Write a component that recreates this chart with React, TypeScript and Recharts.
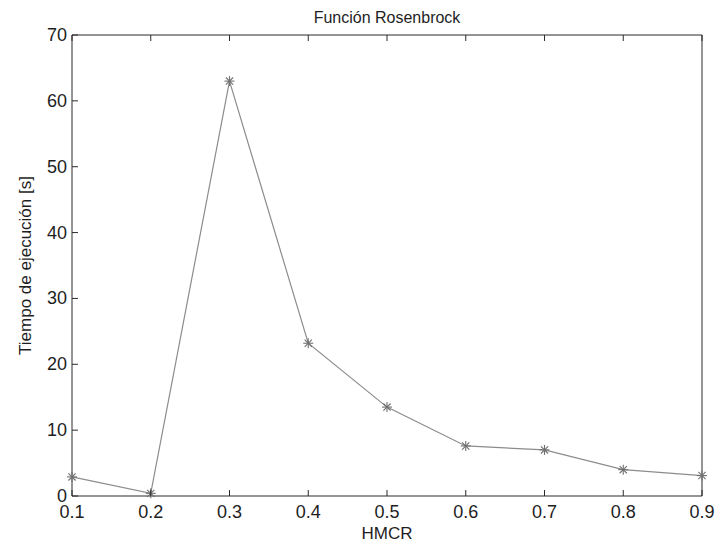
import React from 'react';
import { LineChart, Line, XAxis, YAxis, Label } from 'recharts';

const hmcr = [0.1, 0.2, 0.3, 0.4, 0.5, 0.6, 0.7, 0.8, 0.9];
const tiempo = [2.9, 0.4, 63, 23.2, 13.5, 7.6, 7.0, 4.0, 3.1];
const yTicks = [0, 10, 20, 30, 40, 50, 60, 70];

const data = hmcr.map((x, i) => ({ x, t: tiempo[i] }));

const AXIS = '#2b2b2b';
const TXT = '#1e1e1e';
const FONT = '"Liberation Sans", Arial, sans-serif';

const Star = (props: any) => {
  const { cx, cy } = props;
  if (cx == null || cy == null) return null;
  const r = 5;
  const d = r * 0.72;
  return (
    <g stroke="#707070" strokeWidth={1.1}>
      <line x1={cx - r} y1={cy} x2={cx + r} y2={cy} />
      <line x1={cx} y1={cy - r} x2={cx} y2={cy + r} />
      <line x1={cx - d} y1={cy - d} x2={cx + d} y2={cy + d} />
      <line x1={cx - d} y1={cy + d} x2={cx + d} y2={cy - d} />
    </g>
  );
};

const BottomTick = (props: any) => {
  const { x, y, payload } = props;
  return (
    <g>
      <line x1={x} y1={y} x2={x} y2={y - 6} stroke={AXIS} strokeWidth={1} />
      <text x={x} y={y + 22} textAnchor="middle" fontSize={18} fill={TXT} fontFamily={FONT}>
        {payload.value}
      </text>
    </g>
  );
};

const LeftTick = (props: any) => {
  const { x, y, payload } = props;
  return (
    <g>
      <line x1={x} y1={y} x2={x + 6} y2={y} stroke={AXIS} strokeWidth={1} />
      <text x={x - 5} y={y + 6} textAnchor="end" fontSize={18} fill={TXT} fontFamily={FONT}>
        {payload.value}
      </text>
    </g>
  );
};

// inward tick marks only, for the top and right sides of the box
const TopTick = (props: any) => {
  const { x, y } = props;
  return <line x1={x} y1={y} x2={x} y2={y + 6} stroke={AXIS} strokeWidth={1} />;
};

const RightTick = (props: any) => {
  const { x, y } = props;
  return <line x1={x} y1={y} x2={x - 6} y2={y} stroke={AXIS} strokeWidth={1} />;
};

export default function App() {
  return (
    <div style={{ position: 'absolute', left: 0, top: 0, background: '#fff' }}>
      <LineChart
        width={718}
        height={544}
        data={data}
        margin={{ top: 15, right: 6, bottom: 18, left: 12 }}
      >
        <text x={387} y={23} textAnchor="middle" fontSize={16} fill={TXT} fontFamily={FONT}>
          Función Rosenbrock
        </text>
        <XAxis
          dataKey="x"
          type="number"
          domain={[0.1, 0.9]}
          ticks={hmcr}
          height={30}
          tickSize={0}
          tickMargin={0}
          tickLine={false}
          stroke={AXIS}
          tick={<BottomTick />}
          interval={0}
        >
          <Label value="HMCR" position="insideBottom" offset={-13} fontSize={17} fill={TXT} fontFamily={FONT} />
        </XAxis>
        <XAxis
          xAxisId="top"
          dataKey="x"
          type="number"
          orientation="top"
          domain={[0.1, 0.9]}
          ticks={hmcr}
          height={20}
          tickSize={0}
          tickMargin={0}
          tickLine={false}
          tick={<TopTick />}
          stroke={AXIS}
          interval={0}
        />
        <YAxis
          type="number"
          domain={[0, 70]}
          ticks={yTicks}
          width={60}
          tickSize={0}
          tickMargin={0}
          tickLine={false}
          stroke={AXIS}
          tick={<LeftTick />}
          interval={0}
        >
          <Label
            value="Tiempo de ejecución [s]"
            angle={-90}
            position="insideLeft"
            offset={13}
            fontSize={17}
            fill={TXT}
            fontFamily={FONT}
            style={{ textAnchor: 'middle' }}
          />
        </YAxis>
        <YAxis
          yAxisId="right"
          type="number"
          orientation="right"
          domain={[0, 70]}
          ticks={yTicks}
          width={10}
          tickSize={0}
          tickMargin={0}
          tickLine={false}
          tick={<RightTick />}
          stroke={AXIS}
          interval={0}
        />
        <Line
          dataKey="t"
          stroke="#8c8c8c"
          strokeWidth={1.2}
          dot={<Star />}
          activeDot={false}
          isAnimationActive={false}
        />
      </LineChart>
    </div>
  );
}
